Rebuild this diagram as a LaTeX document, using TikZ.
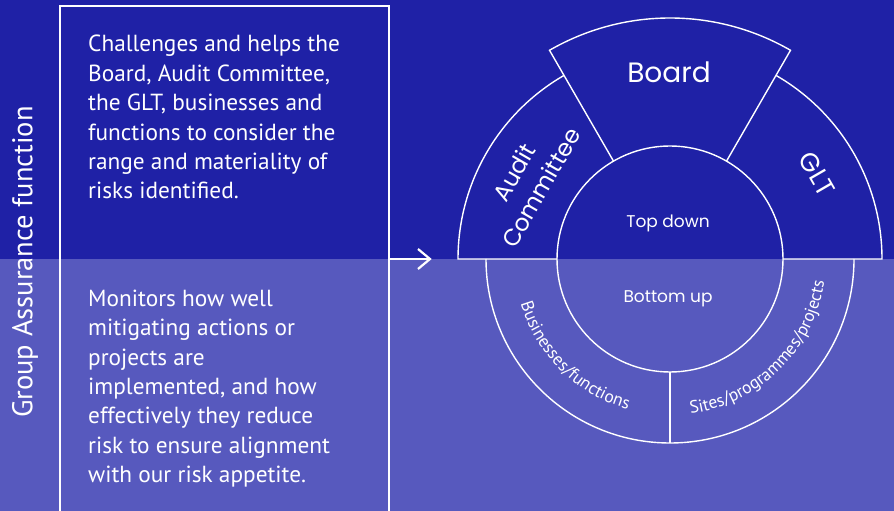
\documentclass[tikz,border=0pt]{standalone}
\usepackage{fontspec}
\setmainfont{PT Sans}
\newfontfamily\geo{Poppins}
\usetikzlibrary{decorations.text}
\definecolor{darkbg}{RGB}{31,33,166}
\definecolor{lightbg}{RGB}{87,89,190}
\tikzset{
  para/.style={anchor=base west, text=white, inner sep=0pt, font=\fontsize{23.3}{26}\selectfont},
  ring/.style={draw=white, line width=1.4pt},
  geolabel/.style={text=white, inner sep=0pt, font=\geo\fontsize{#1}{#1}\selectfont},
  geolabel/.default=24,
  arctext/.style={decorate, decoration={text along path, text align=center, text color=white, text={|\fontsize{17.5}{17.5}\selectfont|#1}}}
}
\begin{document}
\begin{tikzpicture}[x=1pt,y=1pt]
\useasboundingbox (0,0) rectangle (894,511);
% backgrounds
\fill[lightbg] (0,0) rectangle (894,252);
\fill[darkbg] (0,252) rectangle (894,511);
% left box
\draw[white, line width=1.3pt] (60,-5) -- (60,505) -- (389,505) -- (389,-5);
% vertical title
\node[rotate=90, text=white, font=\fontsize{28.5}{28.5}\selectfont] (gaf) at (25,249) {Group Assurance function};
% paragraphs
\foreach \txt [count=\i] in {Challenges and helps the, {Board, Audit Committee,}, {the GLT, businesses and}, functions to consider the, range and materiality of, risks identified.}
  \node[para] (top\i) at (88,{459-(\i-1)*29.4}) {\txt};
\foreach \txt [count=\i] in {Monitors how well, mitigating actions or, projects are, {implemented, and how}, effectively they reduce, risk to ensure alignment, with our risk appetite.}
  \node[para] (bot\i) at (88,{204.3-(\i-1)*29.3}) {\txt};
% arrow
\coordinate (arrS) at (389,252);
\coordinate (arrE) at (430,252);
\draw[white, line width=1.5pt] (arrS) -- (arrE);
\draw[white, line width=2.2pt, line join=miter] ([shift={(-12,10)}]arrE) -- (arrE) -- ([shift={(-12,-10)}]arrE);
% diagram
\begin{scope}[shift={(670,252)}]
  \coordinate (c) at (0,0);
  % Board
  \draw[ring] (60:113) -- (60:241) arc[start angle=60, end angle=120, radius=241] -- (120:113);
  % Audit committee
  \draw[ring] (120:212) arc[start angle=120, end angle=180, radius=212] -- (180:113);
  % GLT
  \draw[ring] (60:212) arc[start angle=60, end angle=0, radius=212] -- (0:113);
  % inner circle
  \draw[ring] (c) circle[radius=113];
  % bottom ring
  \draw[ring] (180:184) arc[start angle=180, end angle=360, radius=184];
  \draw[ring] (270:113) -- (270:184);
  % labels
  \node[geolabel=28, anchor=base] (board) at (-1,176) {Board};
  \node[geolabel=26, rotate=-60] (glt) at (30:170) {GLT};
  \node[geolabel=24, rotate=60, align=center, font=\geo\fontsize{23.5}{31}\selectfont] (audit) at (151:163) {Audit\\Committee};
  \node[geolabel=17, anchor=base] (top) at (-2,31) {Top down};
  \node[geolabel=17, anchor=base] (bottom) at (-2,-43.3) {Bottom up};
  \path[arctext={Businesses/functions}] (190:156) arc[start angle=190, end angle=261, radius=156];
  \path[arctext={Sites/programmes/projects}] (274.6:156) arc[start angle=274.6, end angle=354.6, radius=156];
\end{scope}
\end{tikzpicture}
\end{document}
